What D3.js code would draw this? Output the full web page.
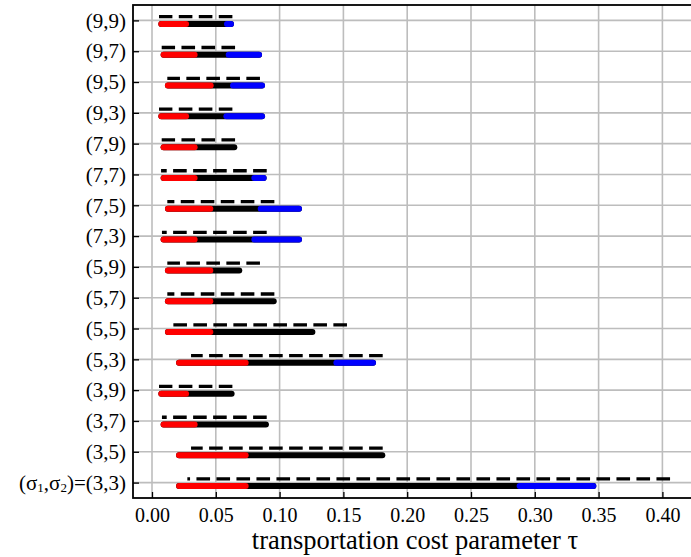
<!DOCTYPE html>
<html>
<head>
<meta charset="utf-8">
<script src="https://cdn.jsdelivr.net/npm/d3@7"></script>
<style>
  body { margin: 0; background: #fff; }
  svg { display: block; }
  text { font-family: "Liberation Serif", "DejaVu Serif", serif; fill: #000; }
</style>
</head>
<body>
<svg id="chart" width="691" height="557"></svg>
<script>
// (σ1,σ2) pairs, listed from top row to bottom row
const categories = ["(9,9)","(9,7)","(9,5)","(9,3)","(7,9)","(7,7)","(7,5)","(7,3)",
                    "(5,9)","(5,7)","(5,5)","(5,3)","(3,9)","(3,7)","(3,5)","(3,3)"];
// dashed interval (upper line of each row)
const dashStart = [0.0055,0.0076,0.0120,0.0055,0.0076,0.0071,0.0120,0.0078,
                   0.0120,0.0120,0.0120,0.0306,0.0055,0.0078,0.0306,0.0277];
const dashEnd   = [0.0630,0.0651,0.0846,0.0630,0.0651,0.0899,0.0959,0.0899,
                   0.0846,0.0959,0.1528,0.1808,0.0630,0.0899,0.1808,0.4060];
// thick interval: red from start to redEnd, black in between, blue from blueStart to end
const thickStart = [0.0073,0.0091,0.0125,0.0073,0.0091,0.0091,0.0125,0.0091,
                    0.0125,0.0125,0.0125,0.0212,0.0073,0.0091,0.0212,0.0212];
const redEnd     = [0.0267,0.0334,0.0460,0.0267,0.0334,0.0334,0.0457,0.0334,
                    0.0457,0.0457,0.0457,0.0734,0.0267,0.0334,0.0734,0.0734];
const blueStart  = [0.0588,0.0601,0.0635,0.0583,null,0.0802,0.0852,0.0802,
                    null,null,null,0.1445,null,null,null,0.2881];
const thickEnd   = [0.0619,0.0839,0.0862,0.0862,0.0645,0.0875,0.1152,0.1152,
                    0.0684,0.0954,0.1257,0.1732,0.0624,0.0893,0.1805,0.3459];
const xTicks = [0, 0.05, 0.10, 0.15, 0.20, 0.25, 0.30, 0.35, 0.40];

const rows = categories.map((c, i) => ({
  cat: c, d0: dashStart[i], d1: dashEnd[i],
  t0: thickStart[i], r1: redEnd[i], b0: blueStart[i], t1: thickEnd[i]
}));

const svg = d3.select("#chart");
const frame = {left: 133, right: 697, top: 5, bottom: 498};

const x = d3.scaleLinear().domain([0, 0.4]).range([152, 662.4]);
const y = d3.scalePoint().domain(categories).range([frame.top, frame.bottom]).padding(0.5);

svg.append("clipPath").attr("id", "plotclip")
  .append("rect").attr("x", frame.left).attr("y", frame.top)
  .attr("width", frame.right - frame.left).attr("height", frame.bottom - frame.top);

// grid
const grid = svg.append("g").attr("clip-path", "url(#plotclip)")
  .attr("stroke", "#bdbdbd").attr("stroke-width", 1.6);
grid.selectAll("line.v").data(xTicks).join("line").attr("class", "v")
  .attr("x1", d => x(d)).attr("x2", d => x(d))
  .attr("y1", frame.top).attr("y2", frame.bottom);
grid.selectAll("line.h").data(categories).join("line").attr("class", "h")
  .attr("x1", frame.left).attr("x2", frame.right)
  .attr("y1", d => y(d)).attr("y2", d => y(d));

const marks = svg.append("g").attr("clip-path", "url(#plotclip)");

// dashed lines, drawn right to left so the dash pattern is anchored at the right end
marks.selectAll("line.dash").data(rows).join("line").attr("class", "dash")
  .attr("x1", d => x(d.d1)).attr("x2", d => x(d.d0))
  .attr("y1", d => y(d.cat) - 3.7).attr("y2", d => y(d.cat) - 3.7)
  .attr("stroke", "#000").attr("stroke-width", 3.3)
  .attr("stroke-dasharray", "13.6 6.4");

const thickY = d => y(d.cat) + 3.5;
// full black span
marks.selectAll("line.blk").data(rows).join("line").attr("class", "blk")
  .attr("x1", d => x(d.t0)).attr("x2", d => x(d.t1))
  .attr("y1", thickY).attr("y2", thickY)
  .attr("stroke", "#000").attr("stroke-width", 6).attr("stroke-linecap", "round");
// red part
marks.selectAll("line.red").data(rows).join("line").attr("class", "red")
  .attr("x1", d => x(d.t0)).attr("x2", d => x(d.r1))
  .attr("y1", thickY).attr("y2", thickY)
  .attr("stroke", "#ff0000").attr("stroke-width", 6).attr("stroke-linecap", "round");
// blue part
marks.selectAll("line.blue").data(rows.filter(d => d.b0 !== null)).join("line").attr("class", "blue")
  .attr("x1", d => x(d.b0)).attr("x2", d => x(d.t1))
  .attr("y1", thickY).attr("y2", thickY)
  .attr("stroke", "#0000ff").attr("stroke-width", 6).attr("stroke-linecap", "round");

// axes
const xAxis = svg.append("g").attr("transform", `translate(0,${frame.bottom})`)
  .call(d3.axisBottom(x).tickValues(xTicks).tickFormat(d3.format(".2f"))
        .tickSizeInner(-6).tickSizeOuter(0).tickPadding(10));
const yAxis = svg.append("g").attr("transform", `translate(${frame.left},0)`)
  .call(d3.axisLeft(y).tickSizeInner(-6).tickSizeOuter(0).tickPadding(7));
[xAxis, yAxis].forEach(g => {
  g.select(".domain").remove();
  g.selectAll(".tick line").attr("stroke", "#000").attr("stroke-width", 1.3);
  g.selectAll(".tick text").attr("font-family", "Liberation Serif, serif").attr("font-size", 20);
});
yAxis.selectAll(".tick text").attr("font-size", 21);

// bottom label carries subscripts
yAxis.selectAll(".tick text").filter(d => d === "(3,3)").each(function () {
  const t = d3.select(this).text("");
  t.append("tspan").text("(σ");
  t.append("tspan").text("1").attr("font-size", 13).attr("dy", 2);
  t.append("tspan").text(",σ").attr("dy", -2);
  t.append("tspan").text("2").attr("font-size", 13).attr("dy", 2);
  t.append("tspan").text(")=(3,3)").attr("dy", -2);
});

// frame
svg.append("rect").attr("x", frame.left).attr("y", frame.top)
  .attr("width", frame.right - frame.left).attr("height", frame.bottom - frame.top)
  .attr("fill", "none").attr("stroke", "#000").attr("stroke-width", 1.8);

svg.append("text").attr("x", (frame.left + frame.right) / 2).attr("y", 549)
  .attr("text-anchor", "middle").attr("font-size", 26.5)
  .text("transportation cost parameter τ");
</script>
</body>
</html>
